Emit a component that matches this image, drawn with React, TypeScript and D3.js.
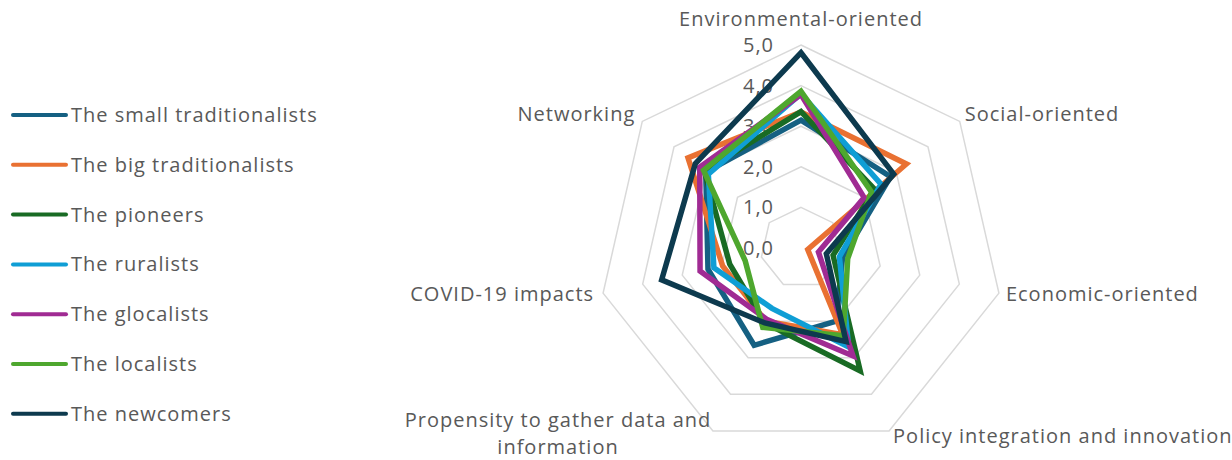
import * as d3 from "d3";

// axes, clockwise from the top
const axes = [
  "Environmental-oriented",
  "Social-oriented",
  "Economic-oriented",
  "Policy integration and innovation",
  "Propensity to gather data and information",
  "COVID-19 impacts",
  "Networking",
];

const smallTraditionalists = [3.15, 2.82, 1.05, 2.0, 2.66, 2.35, 3.0];
const bigTraditionalists = [3.35, 3.32, 0.17, 2.37, 2.0, 1.98, 3.56];
const pioneers = [3.36, 2.32, 0.81, 3.36, 2.05, 1.8, 3.05];
const ruralists = [3.8, 2.52, 0.97, 2.71, 1.65, 2.2, 2.92];
const glocalists = [3.78, 1.99, 0.44, 2.95, 1.95, 2.55, 3.19];
const localists = [3.86, 2.22, 1.18, 2.4, 2.17, 1.41, 3.07];
const newcomers = [4.81, 2.92, 0.64, 2.56, 2.05, 3.52, 3.33];

const seriesNames = [
  "The small traditionalists",
  "The big traditionalists",
  "The pioneers",
  "The ruralists",
  "The glocalists",
  "The localists",
  "The newcomers",
];
const seriesValues = [
  smallTraditionalists,
  bigTraditionalists,
  pioneers,
  ruralists,
  glocalists,
  localists,
  newcomers,
];
const colors = ["#156082", "#E97132", "#196B24", "#0F9ED5", "#A02B93", "#4EA72E", "#0D3A4E"];

const ticks = [0, 1, 2, 3, 4, 5];

const width = 1232;
const height = 460;
const cx = 801;
const cy = 248;
const R = 203;
const font = "'Open Sans', sans-serif";
const textColor = "#595959";
const fs = 20;
const ls = 1;

const fmt = d3.formatLocale({ decimal: ",", thousands: ".", grouping: [3], currency: ["", ""] }).format(".1f");

export default function App() {
  const r = d3.scaleLinear().domain([0, 5]).range([0, R]);
  const angle = (i: number) => (i * 2 * Math.PI) / axes.length;

  const radial = d3
    .lineRadial<number>()
    .angle((_, i) => angle(i))
    .radius((d) => r(d))
    .curve(d3.curveLinearClosed);

  const ring = (v: number) => radial(axes.map(() => v)) as string;

  // axis label placement, relative to the outer vertex
  const labelPos = axes.map((_, i) => {
    const a = angle(i);
    return [Math.sin(a) * R, -Math.cos(a) * R];
  });

  const txt = { fontSize: fs, fill: textColor, letterSpacing: ls };

  return (
    <svg width={width} height={height} style={{ position: "absolute", left: 0, top: 0 }} fontFamily={font}>
      <rect width={width} height={height} fill="#fff" />

      {/* legend */}
      {seriesNames.map((name, i) => {
        const y = 115 + i * 49.8;
        return (
          <g key={name}>
            <line x1={13} x2={66} y1={y} y2={y} stroke={colors[i]} strokeWidth={4} strokeLinecap="round" />
            <text x={71} y={y} dy="0.35em" {...txt}>
              {name}
            </text>
          </g>
        );
      })}

      <g transform={`translate(${cx},${cy})`}>
        {ticks
          .filter((t) => t > 0)
          .map((t) => (
            <path key={t} d={ring(t)} fill="none" stroke="#d9d9d9" strokeWidth={1.5} />
          ))}
        {ticks.map((t) => (
          <text key={t} x={-27} y={-r(t)} dy="0.35em" textAnchor="end" {...txt}>
            {fmt(t)}
          </text>
        ))}

        {seriesValues.map((vals, i) => (
          <path
            key={seriesNames[i]}
            d={radial(vals) as string}
            fill="none"
            stroke={colors[i]}
            strokeWidth={5.5}
            strokeLinejoin="miter"
          />
        ))}

        {/* axis labels */}
        <text x={labelPos[0][0]} y={labelPos[0][1] - 26} dy="0.35em" textAnchor="middle" {...txt}>
          {axes[0]}
        </text>
        <text x={labelPos[1][0] + 5} y={labelPos[1][1] - 7} dy="0.35em" textAnchor="start" {...txt}>
          {axes[1]}
        </text>
        <text x={labelPos[2][0] + 7} y={labelPos[2][1] + 1} dy="0.35em" textAnchor="start" {...txt}>
          {axes[2]}
        </text>
        <text x={labelPos[3][0] + 4} y={labelPos[3][1] + 5} dy="0.35em" textAnchor="start" {...txt}>
          {axes[3]}
        </text>
        <text textAnchor="middle" {...txt}>
          <tspan x={558 - cx} y={420 - cy} dy="0.35em">
            Propensity to gather data and
          </tspan>
          <tspan x={558 - cx} y={447 - cy} dy="0.35em">
            information
          </tspan>
        </text>
        <text x={labelPos[5][0] - 9} y={labelPos[5][1] + 1} dy="0.35em" textAnchor="end" {...txt}>
          {axes[5]}
        </text>
        <text x={labelPos[6][0] - 7} y={labelPos[6][1] - 7} dy="0.35em" textAnchor="end" {...txt}>
          {axes[6]}
        </text>
      </g>
    </svg>
  );
}
